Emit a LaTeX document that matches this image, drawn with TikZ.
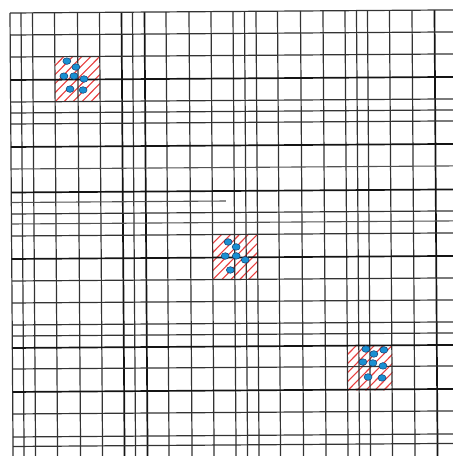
\documentclass[tikz,border=0pt]{standalone}
\definecolor{hatchred}{RGB}{232,62,62}
\definecolor{dotblue}{RGB}{26,144,210}
\definecolor{dotedge}{RGB}{20,60,110}
\begin{document}
\begin{tikzpicture}[x=1pt,y=-1pt,
  gridline/.style={black!80,line width=1.2pt},
  heavyline/.style={black!92,line width=1.7pt},
  faintline/.style={black!68,line width=1.1pt},
  hatchline/.style={hatchred,line width=1.1pt},
  spot/.style={fill=dotblue,draw=dotedge,line width=0.5pt}]
\useasboundingbox (0,0) rectangle (453,456);
\fill[white] (0,0) rectangle (453,456);
\clip (0,0) rectangle (453,456);
\begin{scope}[rotate around={0.4:(226,228)}]
% hatched cells
\foreach \sx/\sy in {56/55.5, 212.5/234.5, 346.5/346.5} {
  \begin{scope}
    \clip (\sx,\sy) rectangle ++(45,45);
    \foreach \k in {-45,-36,...,45} \draw[hatchline] (\sx+\k,\sy+45) -- ++(45,-45);
  \end{scope}
}
% vertical lines
\foreach \gx in {11.5,22.5,34,56,79,101,134,167.5,190.5,212.5,234.5,246,257.5,279,302,324.5,346.5,358,369,391,413.5}
  \draw[gridline] (\gx,11.5) -- (\gx,470);
\foreach \gx in {123,146,436}
  \draw[heavyline] (\gx,11.5) -- (\gx,470);
% horizontal lines
\foreach \gy in {11.5,33.5,55.5,100.5,111.5,122.5,212.5,234.5,279.5,301.5,323.5,334.5,367.5,412.5,435.5,445}
  \draw[gridline] (11.5,\gy) -- (470,\gy);
\foreach \gy in {78.5,145.5,191,257.5,346.5,390.5}
  \draw[heavyline] (11.5,\gy) -- (470,\gy);
\foreach \gy in {167.5,222.5}
  \draw[faintline] (11.5,\gy) -- (470,\gy);
\draw[faintline] (11.5,201) -- (226,201);
% dots
\foreach \px/\py in {68/60,77/66,65/75,75/75,85/78,71/88,84/89,
                     228/242,236/247,225/256,236/256,245/260,230/270,
                     365/350,373/355,383/351,362/363,372/364,382/367,367/378,381/379}
  \filldraw[spot] (\px,\py) ellipse [x radius=4, y radius=3.3];
\end{scope}
\end{tikzpicture}
\end{document}
